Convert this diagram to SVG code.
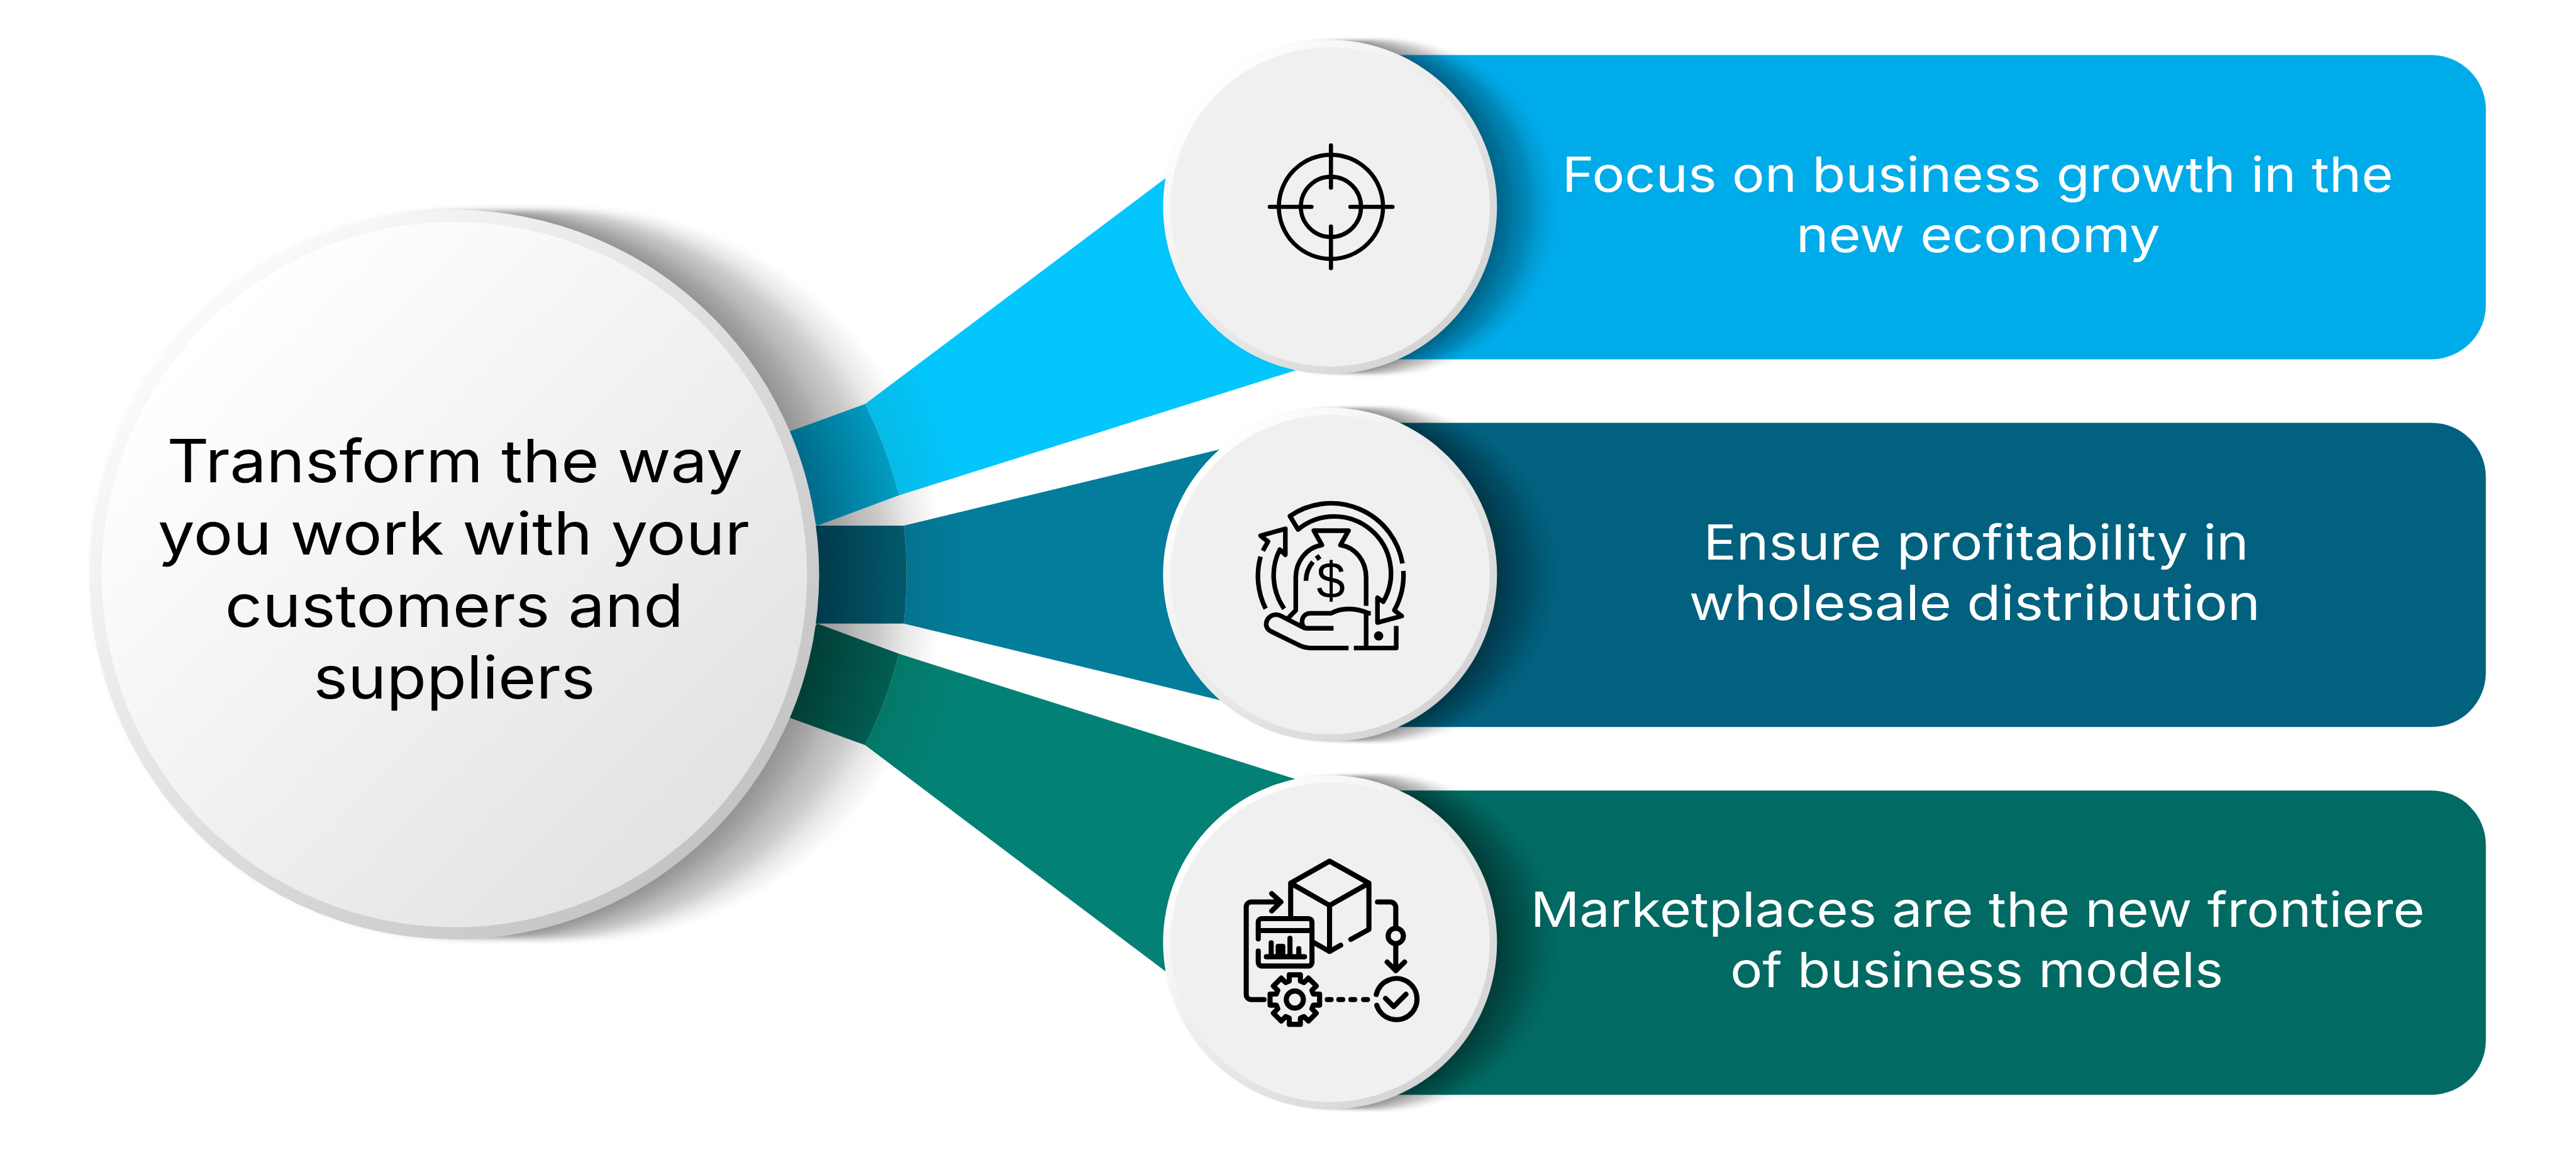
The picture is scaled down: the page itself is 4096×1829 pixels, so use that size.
<svg xmlns="http://www.w3.org/2000/svg" width="4096" height="1829" viewBox="0 0 4096 1829">
<style>
text{font-family:"Inter","Liberation Sans",sans-serif}
.h{font-size:98px;font-weight:400;fill:#000}
.t{font-size:80px;fill:#fff}
.ic{fill:none;stroke:#000;stroke-linejoin:round;stroke-linecap:round}
.ic1{stroke-width:18}
.ic2{stroke-width:20;stroke-linecap:butt}
.ic3{stroke-width:22}
.s1{fill:#000;fill-opacity:.02}
.s2{fill:#000;fill-opacity:.03}
.s3{fill:#000;fill-opacity:.035}
</style>
<defs>
<filter id="soft" x="-15%" y="-15%" width="130%" height="130%"><feGaussianBlur stdDeviation="5"/></filter>
<filter id="softS" x="-15%" y="-15%" width="130%" height="130%"><feGaussianBlur stdDeviation="2.500"/></filter>
<g id="smallShadow" filter="url(#softS)">
<circle class="s3" cx="0" r="276"/><circle class="s3" cx="5" r="276"/><circle class="s3" cx="10" r="276"/><circle class="s3" cx="15" r="276"/><circle class="s3" cx="20" r="276"/><circle class="s3" cx="25" r="276"/><circle class="s3" cx="30" r="276"/>
<circle class="s2" cx="35" r="277"/><circle class="s2" cx="40" r="277"/><circle class="s2" cx="45" r="277"/><circle class="s2" cx="50" r="277"/><circle class="s2" cx="55" r="277"/><circle class="s2" cx="60" r="277"/><circle class="s2" cx="65" r="277"/><circle class="s2" cx="70" r="277"/>
<circle class="s1" cx="75" r="278"/><circle class="s1" cx="80" r="278"/><circle class="s1" cx="85" r="278"/><circle class="s1" cx="90" r="278"/><circle class="s1" cx="95" r="278"/>
</g>
<radialGradient id="fan1" gradientUnits="userSpaceOnUse" cx="751" cy="950" r="900"><stop offset=".82" stop-color="#06bae6"/><stop offset=".95" stop-color="#03c6fc"/></radialGradient>
<radialGradient id="fan2" gradientUnits="userSpaceOnUse" cx="751" cy="950" r="900"><stop offset=".82" stop-color="#04728f"/><stop offset=".95" stop-color="#037d9b"/></radialGradient>
<radialGradient id="fan3" gradientUnits="userSpaceOnUse" cx="751" cy="950" r="900"><stop offset=".82" stop-color="#037868"/><stop offset=".95" stop-color="#038175"/></radialGradient>
<radialGradient id="band1" gradientUnits="userSpaceOnUse" cx="751" cy="950" r="750"><stop offset=".8" stop-color="#006a88"/><stop offset="1" stop-color="#019fc4"/></radialGradient>
<radialGradient id="band2" gradientUnits="userSpaceOnUse" cx="751" cy="950" r="750"><stop offset=".8" stop-color="#013a4b"/><stop offset="1" stop-color="#025a6c"/></radialGradient>
<radialGradient id="band3" gradientUnits="userSpaceOnUse" cx="751" cy="950" r="750"><stop offset=".8" stop-color="#013e37"/><stop offset="1" stop-color="#025f53"/></radialGradient>
<linearGradient id="mainRing" x1=".15" y1=".15" x2=".85" y2=".85"><stop offset="0" stop-color="#fafafa"/><stop offset="1" stop-color="#c4c4c4"/></linearGradient>
<linearGradient id="mainFace" x1=".15" y1=".15" x2=".85" y2=".85"><stop offset="0" stop-color="#fff"/><stop offset="1" stop-color="#e3e3e3"/></linearGradient>
<linearGradient id="smallRing" x1=".15" y1=".15" x2=".85" y2=".85"><stop offset="0" stop-color="#fff"/><stop offset="1" stop-color="#d4d4d4"/></linearGradient>
</defs>
<rect width="4096" height="1829" fill="#fff"/>
<g transform="scale(.96195)">
<g id="main-shadow" filter="url(#soft)">
<circle class="s3" cx="751" cy="950" r="603"/><circle class="s3" cx="761.500" cy="950" r="603"/><circle class="s3" cx="772" cy="950" r="603"/><circle class="s3" cx="783" cy="950" r="603"/><circle class="s3" cx="793" cy="950" r="603"/><circle class="s3" cx="804" cy="950" r="603"/><circle class="s3" cx="814" cy="950" r="603"/>
<circle class="s2" cx="825" cy="950" r="604"/><circle class="s2" cx="835" cy="950" r="604"/><circle class="s2" cx="846" cy="950" r="604"/><circle class="s2" cx="856" cy="950" r="604"/><circle class="s2" cx="867" cy="950" r="604"/><circle class="s2" cx="878" cy="950" r="604"/><circle class="s2" cx="888" cy="950" r="604"/><circle class="s2" cx="899" cy="950" r="604"/>
<circle class="s1" cx="909" cy="950" r="605"/><circle class="s1" cx="920" cy="950" r="605"/><circle class="s1" cx="930" cy="950" r="605"/><circle class="s1" cx="941" cy="950" r="605"/><circle class="s1" cx="951" cy="950" r="605"/>
</g>
<g id="connectors">
<path fill="url(#fan1)" d="M1430 668L1926 295L2198 342L2141 612.6L1486 819A740 740 0 0 0 1430 668Z"/>
<path fill="url(#band1)" d="M1306 713L1430 668A740 740 0 0 1 1486 819L1351 869L1300 800Z"/>
<path fill="url(#fan2)" d="M1494 869L2016 743L2198 950L2016 1157.500L1494 1031A700 700 0 0 0 1494 869Z"/>
<path fill="url(#band2)" d="M1340 869H1494A700 700 0 0 1 1494 1031H1340Z"/>
<path fill="url(#fan3)" d="M1486 1081L2141 1288L2198 1558L1926 1605.600L1430 1232A740 740 0 0 0 1486 1081Z"/>
<path fill="url(#band3)" d="M1351 1031L1486 1081A740 740 0 0 1 1430 1232L1306 1187L1300 1100Z"/>
</g>
<g id="node-main">
<circle cx="751" cy="950" r="603" fill="url(#mainRing)"/>
<circle cx="751" cy="950" r="583" fill="url(#mainFace)"/>
<text class="h" x="276" y="797.500" textLength="952" lengthAdjust="spacingAndGlyphs">Transform the way</text>
<text class="h" x="261" y="917" textLength="978" lengthAdjust="spacingAndGlyphs">you work with your</text>
<text class="h" x="372" y="1036" textLength="758" lengthAdjust="spacingAndGlyphs">customers and</text>
<text class="h" x="518" y="1155" textLength="466" lengthAdjust="spacingAndGlyphs">suppliers</text>
</g>
<g id="node-focus">
<rect x="2198" y="91" width="1911" height="503" rx="90" fill="#00abe9"/>
<g transform="translate(2198.500,342)">
<use href="#smallShadow"/>
<circle r="276" fill="url(#smallRing)"/>
<circle r="264" fill="#f0f0f0"/>
</g>
<g class="ic ic1" transform="translate(1900,50) scale(.38265)">
<circle cx="784" cy="763" r="225"/><circle cx="784" cy="763" r="130"/>
<path d="M784 498V680M784 848V1028M520 763H700M868 763H1050"/>
</g>
<text class="t" x="2582" y="316.700" textLength="1374" lengthAdjust="spacingAndGlyphs">Focus on business growth in the</text>
<text class="t" x="2969" y="416.700" textLength="602" lengthAdjust="spacingAndGlyphs">new economy</text>
</g>
<g id="node-profit">
<rect x="2198" y="699" width="1911" height="503" rx="90" fill="#01617f"/>
<g transform="translate(2198.500,950)">
<use href="#smallShadow"/>
<circle r="276" fill="url(#smallRing)"/>
<circle r="264" fill="#f0f0f0"/>
</g>
<g class="ic ic2" transform="translate(1900,660) scale(.38265)">
<path d="M1093 710A313 313 0 0 0 607 505L642 563A245 245 0 0 1 1010 875L985 858V965L1090 937L1058 912A313 313 0 0 0 1097 742"/>
<path d="M582 905A248 248 0 0 1 563 650L587 672V560L480 590L512 615L490 655M480 680A315 315 0 0 0 502 905"/>
<path d="M936 893V770C936 700 890 640 825 630L860 568H710L745 630C680 640 632 700 632 770V912L600 945"/>
<path d="M676 785C676 750 688 725 706 703M722 675L735 693"/>
<path d="M795 990H680C650 990 650 925 695 925H785C830 900 890 900 946 925H956"/>
<path d="M860 1075H695C670 1075 655 1068 640 1060L525 1003C480 980 515 915 565 935L672 990"/>
<path d="M936 925V1075M883 1075H1066V980"/>
<circle cx="990" cy="1023" r="20" fill="#000" stroke="none"/>
<text x="784" y="858" text-anchor="middle" font-size="222" fill="#000" stroke="none" style="font-family:'Liberation Sans',sans-serif">$</text>
</g>
<text class="t" x="2816" y="925" textLength="901" lengthAdjust="spacingAndGlyphs">Ensure profitability in</text>
<text class="t" x="2792" y="1025" textLength="944" lengthAdjust="spacingAndGlyphs">wholesale distribution</text>
</g>
<g id="node-market">
<rect x="2198" y="1307" width="1911" height="503" rx="90" fill="#016a63"/>
<g transform="translate(2198.500,1558)">
<use href="#smallShadow"/>
<circle r="276" fill="url(#smallRing)"/>
<circle r="264" fill="#f0f0f0"/>
</g>
<g class="ic ic3" transform="translate(1900,1270) scale(.38265)">
<path d="M610 640V497L778 402L948 497V697L870 740M826 765L778 792L712 755M610 497L778 593L948 497M778 593V792"/>
<path d="M470 738V665A15 15 0 0 1 485 650H687A15 15 0 0 1 702 665V840A15 15 0 0 1 687 855H485A15 15 0 0 1 470 840V790M470 702H702"/>
<path d="M505 815H670M526 812V755M556 812V770H576V812M607 812V735M645 812V780"/>
<path d="M495 1000H440A22 22 0 0 1 418 978V600A22 22 0 0 1 440 578H565M528 542L568 578L528 617"/>
<path d="M985 578H1040A24 24 0 0 1 1064 602V685M1064 770V875M1027 838L1064 875L1102 838"/>
<circle cx="1064" cy="725" r="33"/>
<path d="M980 978A89 89 0 1 1 982 1025M1020 995L1055 1030L1108 977"/>
<path d="M768 1000H785M818 1000H835M870 1000H887M925 1000H942"/>
<path d="M604 893H652V920L667.600 926.400L686.700 907.300L720.700 941.300L701.600 960.400L708 976H735V1024H708L701.600 1039.600L720.700 1058.700L686.700 1092.700L667.600 1073.600L652 1080V1107H604V1080L588.400 1073.600L569.300 1092.700L535.300 1058.700L554.400 1039.600L548 1024H521V976H548L554.400 960.400L535.300 941.300L569.300 907.300L588.400 926.400L604 920Z"/>
<circle cx="628" cy="1000" r="37"/>
</g>
<text class="t" x="2530" y="1532.700" textLength="1478" lengthAdjust="spacingAndGlyphs">Marketplaces are the new frontiere</text>
<text class="t" x="2860" y="1632.300" textLength="815" lengthAdjust="spacingAndGlyphs">of business models</text>
</g>
</g>
</svg>
